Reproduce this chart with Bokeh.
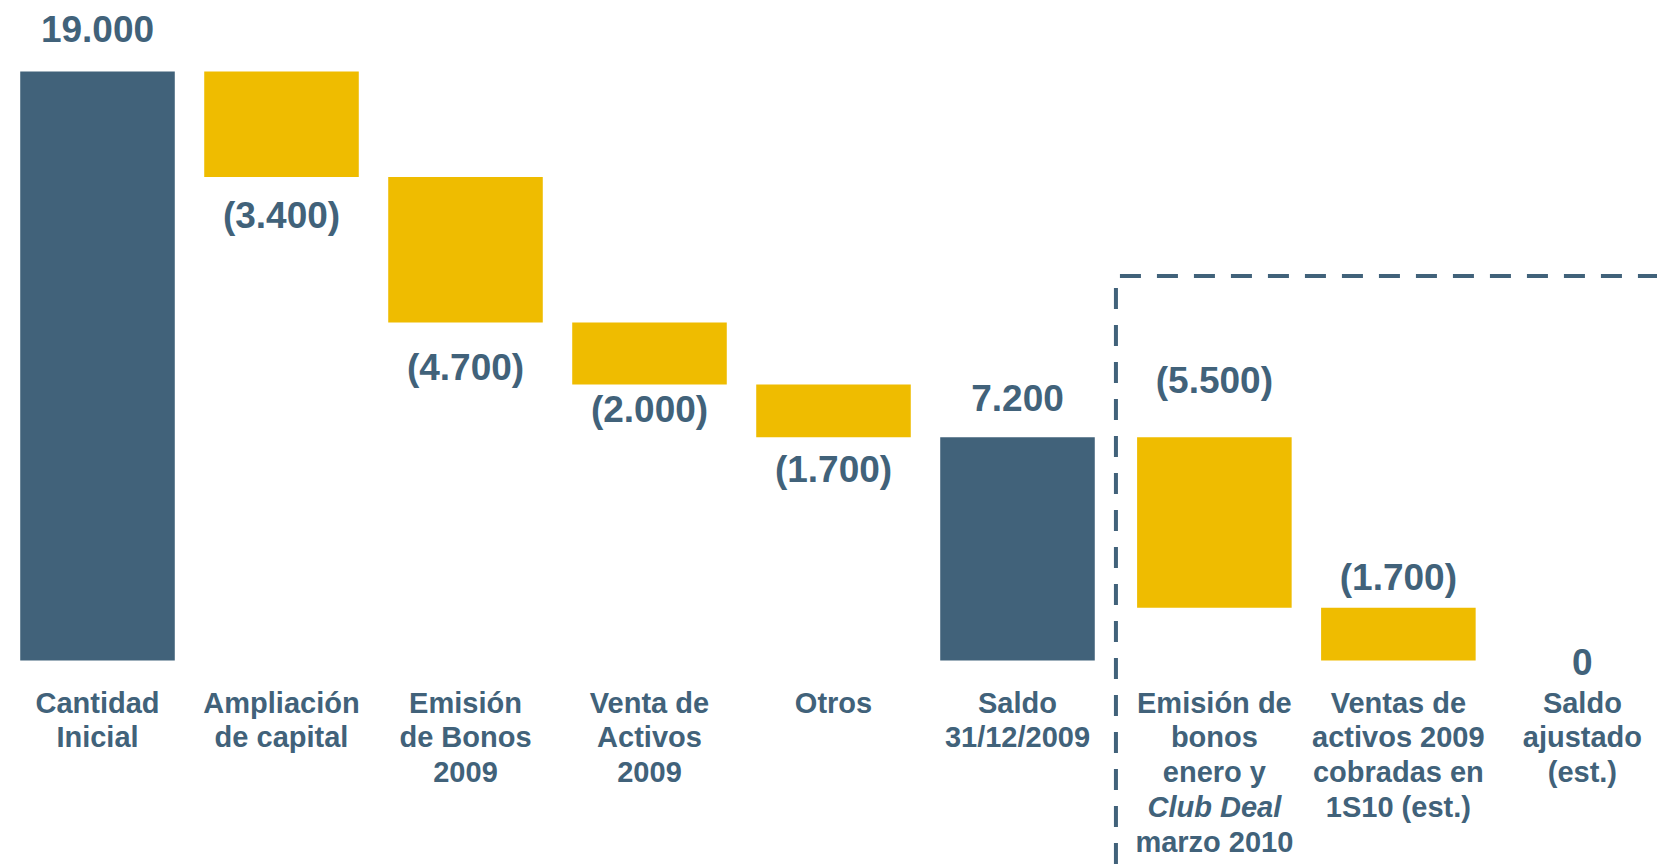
import numpy as np
from bokeh.plotting import figure
from bokeh.models import Range1d, ColumnDataSource
from bokeh.core.properties import value
from bokeh.embed import file_html
from bokeh.resources import INLINE

# ---------------- data ----------------
categories = [
    "Cantidad\nInicial",
    "Ampliación\nde capital",
    "Emisión\nde Bonos\n2009",
    "Venta de\nActivos\n2009",
    "Otros",
    "Saldo\n31/12/2009",
    "Emisión de\nbonos\nenero y\nClub Deal\nmarzo 2010",
    "Ventas de\nactivos 2009\ncobradas en\n1S10 (est.)",
    "Saldo\najustado\n(est.)",
]
values = [19000, -3400, -4700, -2000, -1700, 7200, -5500, -1700, 0]
is_total = [True, False, False, False, False, True, False, False, True]
section = [0, 0, 0, 0, 0, 0, 1, 1, 1]
italic_lines = ["Club Deal"]

# ---------------- style / layout ----------------
DARK = "#41627A"
GOLD = "#EFBC00"
FONT = "Liberation Sans"
W, H = 1657, 866
BAR_W = 0.84
SECTION_GAP = 0.07
X_RANGE = (-0.5272, 8.4783)
Y_RANGE = (-6645, 21290)
BOX_TOP = 12400                      # level of the dashed bracket
label_offset_px = [42, -39, -45, -25, -32, 39, 57, 30, -1]
CAT_FIRST_PX = 42
CAT_LINE_PX = 34.8

k = H / (Y_RANGE[1] - Y_RANGE[0])    # px per data unit (y)
kx = W / (X_RANGE[1] - X_RANGE[0])   # px per data unit (x)

# ---------------- waterfall geometry ----------------
xs = np.arange(len(values)) + SECTION_GAP * np.array(section)
bottoms, tops, colors = [], [], []
running = 0
for v, tot in zip(values, is_total):
    if tot:
        b, t = 0, v
        running = v
    else:
        b, t = running + v, running
        running += v
    bottoms.append(b)
    tops.append(t)
    colors.append(DARK if tot else GOLD)

def fmt(v):
    s = f"{abs(v):,}".replace(",", ".")
    return f"({s})" if v < 0 else s

lab_text = [fmt(v) for v in values]
lab_y = []
for b, t, off in zip(bottoms, tops, label_offset_px):
    anchor = max(b, t) if off > 0 else min(b, t)
    lab_y.append(anchor + off / k)

# ---------------- figure ----------------
p = figure(width=W, height=H, output_backend="svg", toolbar_location=None,
           x_range=Range1d(*X_RANGE), y_range=Range1d(*Y_RANGE),
           min_border=0, min_border_left=0, min_border_right=0,
           min_border_top=0, min_border_bottom=0)
p.axis.visible = False
p.grid.visible = False
p.outline_line_color = None
p.background_fill_color = "white"
p.border_fill_color = "white"

bars = ColumnDataSource(dict(x=xs, bottom=bottoms, top=tops, color=colors))
p.vbar(x="x", bottom="bottom", top="top", width=BAR_W, fill_color="color",
       line_color=None, source=bars)

p.text(x=list(xs), y=lab_y, text=lab_text, text_font=value(FONT),
       text_font_style="bold", text_font_size="37px", text_color=DARK,
       text_align="center", text_baseline="middle")

# category labels, line by line
nx, ny, nt, ix, iy, it = [], [], [], [], [], []
for x, cat in zip(xs, categories):
    for j, line in enumerate(cat.split("\n")):
        y = -(CAT_FIRST_PX + j * CAT_LINE_PX) / k
        if line in italic_lines:
            ix.append(x); iy.append(y); it.append(line)
        else:
            nx.append(x); ny.append(y); nt.append(line)

p.text(x=nx, y=ny, text=nt, text_font=value(FONT), text_font_style="bold",
       text_font_size="29px", text_color=DARK, text_align="center",
       text_baseline="middle")
p.text(x=ix, y=iy, text=it, text_font=value(FONT), text_font_style="bold italic",
       text_font_size="29px", text_color=DARK, text_align="center",
       text_baseline="middle")

# dashed bracket around the 2010 section
first2 = section.index(1)
xd = (xs[first2 - 1] + xs[first2]) / 2
p.line(x=[xd, xd], y=[BOX_TOP - 12 / k, Y_RANGE[0]], line_color=DARK,
       line_width=4, line_dash="21 16")
p.line(x=[xd + 4 / kx, X_RANGE[1]], y=[BOX_TOP, BOX_TOP],
       line_color=DARK, line_width=4, line_dash="21 16")

open("out.html", "w").write(file_html(p, INLINE))
